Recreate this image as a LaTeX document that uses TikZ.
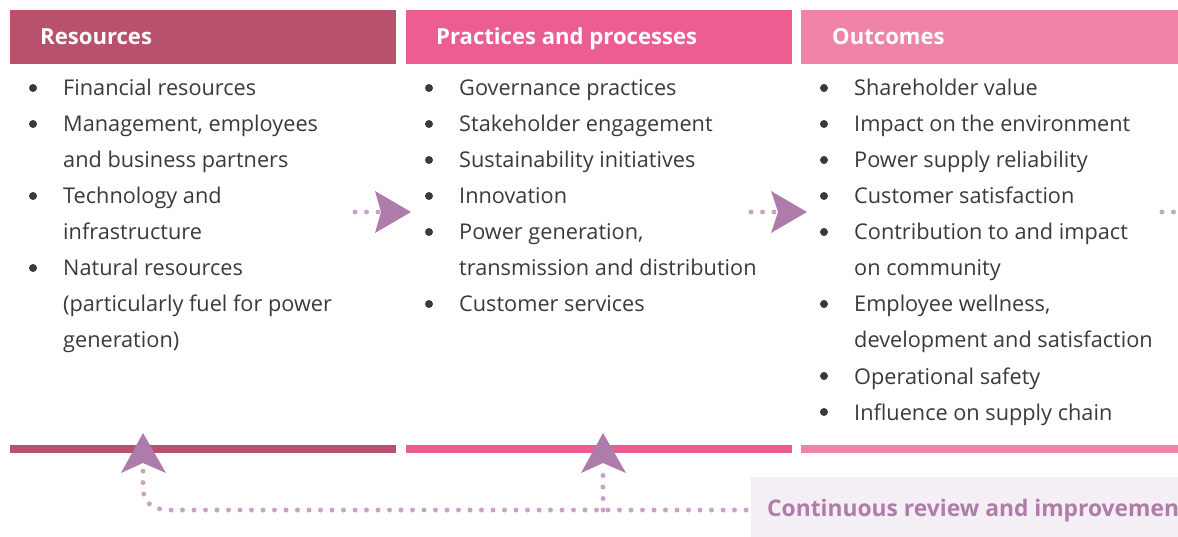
\documentclass[tikz,border=0pt]{standalone}
\usepackage{fontspec}
\setmainfont{Open Sans}
\definecolor{rescol}{HTML}{B9516C}
\definecolor{praccol}{HTML}{EC5E92}
\definecolor{outcol}{HTML}{EF83A8}
\definecolor{chevcol}{HTML}{AE7CAA}
\definecolor{dotcol}{HTML}{C9A3C7}
\definecolor{reviewbg}{HTML}{F4EEF5}
\definecolor{reviewtxt}{HTML}{B07CAA}
\definecolor{bodytxt}{HTML}{3A3A3A}
\begin{document}
\begin{tikzpicture}[x=1pt,y=-1pt,
  header/.style={anchor=north west, inner sep=0pt, minimum height=54pt},
  headtext/.style={anchor=base west, inner sep=0pt, text=white, font=\fontsize{22.1}{26}\selectfont\bfseries},
  bar/.style={anchor=north west, inner sep=0pt, minimum height=8pt},
  line/.style={anchor=base west, inner sep=0pt, text=bodytxt, font=\fontsize{21.7}{26}\selectfont},
  bulletdot/.style={circle, fill=bodytxt, inner sep=0pt, minimum size=8pt},
  dots/.style={draw=dotcol, line width=5pt, line cap=round, dash pattern=on 0pt off 11.5pt},
  chevron/.style={fill=chevcol, draw=none}]
\useasboundingbox (0,0) rectangle (1178,537);

% column headers
\node[header, fill=rescol, minimum width=386pt] (hres) at (10,10) {};
\node[header, fill=praccol, minimum width=386pt] (hprac) at (406,10) {};
\node[header, fill=outcol, minimum width=380pt] (hout) at (801,10) {};
\node[headtext] (tres) at (40,45) {Resources};
\node[headtext] (tprac) at (436,45) {Practices and processes};
\node[headtext] (tout) at (832,45) {Outcomes};

% bottom bars
\node[bar, fill=rescol, minimum width=386pt] (bres) at (10,445) {};
\node[bar, fill=praccol, minimum width=386pt] (bprac) at (406,445) {};
\node[bar, fill=outcol, minimum width=380pt] (bout) at (801,445) {};

% list entries: x of text, line number, text, bullet flag
\foreach \tx/\k/\txt/\b in {
  63/0/Financial resources/1,
  63/1/{Management, employees}/1,
  63/2/and business partners/0,
  63/3/Technology and/1,
  63/4/infrastructure/0,
  63/5/Natural resources/1,
  63/6/(particularly fuel for power/0,
  63/7/generation)/0,
  459/0/Governance practices/1,
  459/1/Stakeholder engagement/1,
  459/2/Sustainability initiatives/1,
  459/3/Innovation/1,
  459/4/{Power generation,}/1,
  459/5/transmission and distribution/0,
  459/6/Customer services/1,
  854/0/Shareholder value/1,
  854/1/Impact on the environment/1,
  854/2/Power supply reliability/1,
  854/3/Customer satisfaction/1,
  854/4/Contribution to and impact/1,
  854/5/on community/0,
  854/6/{Employee wellness,}/1,
  854/7/development and satisfaction/0,
  854/8/Operational safety/1,
  854/9/Influence on supply chain/1}{
  \node[line] (l-\tx-\k) at (\tx, 96+36*\k) {\txt};
  \ifnum\b=1
    \node[bulletdot] (b-\tx-\k) at (\tx-30, 88+36*\k) {};
  \fi
}

% forward arrows between columns
\coordinate (a1s) at (355,212);
\coordinate (a1e) at (381,212);
\draw[dots] (a1s) -- (a1e);
\fill[chevron] (375,191) -- (411,212) -- (375,233) -- (381,212) -- cycle;
\coordinate (a2s) at (751,212);
\coordinate (a2e) at (778,212);
\draw[dots] (a2s) -- (a2e);
\fill[chevron] (771,191) -- (807,212) -- (771,233) -- (778,212) -- cycle;
\coordinate (a3s) at (1162,212);
\coordinate (a3e) at (1178,212);
\draw[dots] (a3s) -- (a3e);

% review box
\node[anchor=north west, inner sep=0pt, fill=reviewbg, minimum width=427pt, minimum height=60pt] (review) at (751,477) {};
\node[anchor=base west, inner sep=0pt, text=reviewtxt, font=\fontsize{22.8}{26}\selectfont\bfseries] (reviewtxt) at (767,516) {Continuous review and improvemen};

% feedback loop
\coordinate (fbstart) at (746,510);
\coordinate (up1) at (143,471);
\coordinate (up2) at (603,471);
\draw[dots] (fbstart) -- (170,510) .. controls (150,510) and (143,500) .. (143,488) -- (up1);
\draw[dots] (603,510) -- (up2);
\fill[chevron] (143,433) -- (166,473) -- (143,463) -- (121,473) -- cycle;
\fill[chevron] (603,433) -- (626,473) -- (603,463) -- (581,473) -- cycle;
\end{tikzpicture}
\end{document}
